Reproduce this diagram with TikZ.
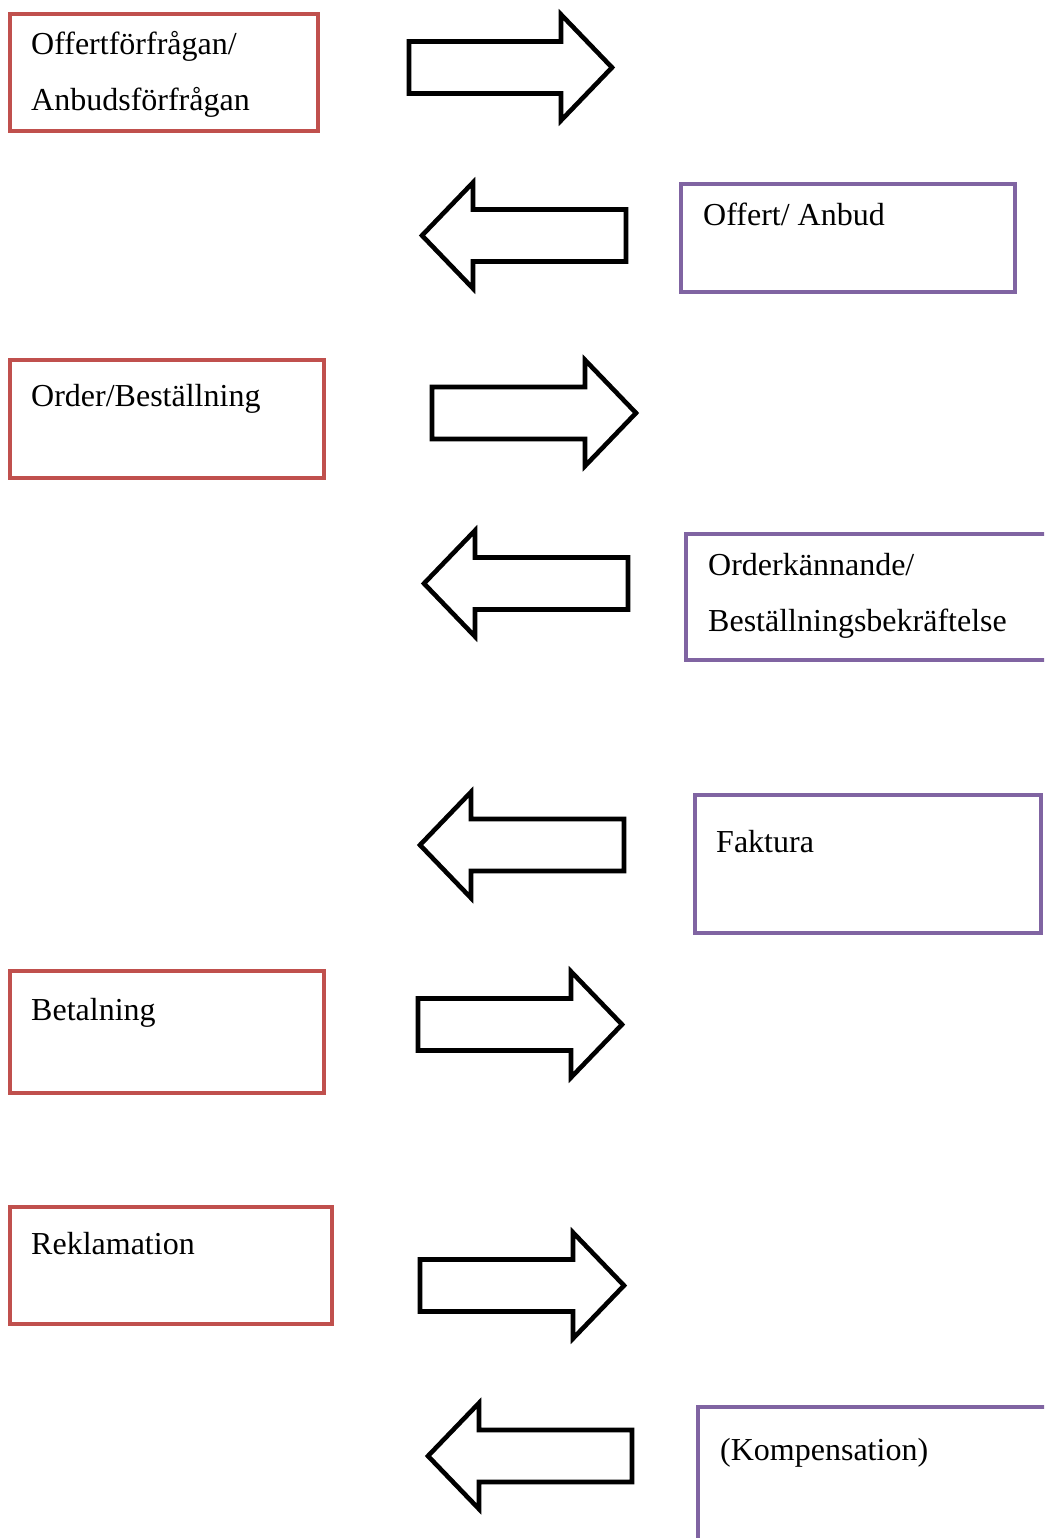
\documentclass[tikz,border=0pt]{standalone}
\usepackage{fontspec}
\setmainfont{Liberation Serif}
\definecolor{boxred}{HTML}{C0504D}
\definecolor{boxpurple}{HTML}{8064A2}
\tikzset{
  redbox/.style={draw=boxred, line width=4pt},
  purplebox/.style={draw=boxpurple, line width=4pt},
  blockarrow/.style={draw=black, line width=4.6pt, line join=miter, fill=white},
  label/.style={anchor=base west, inner sep=0pt, font=\fontsize{32}{56}\selectfont}
}
% right arrow: tail x, tip x, centre y
\newcommand\myarrowR[3]{%
  \draw[blockarrow] (#1,#3-26) -- (#2-51,#3-26) -- (#2-51,#3-53) -- (#2,#3)
    -- (#2-51,#3+53) -- (#2-51,#3+26) -- (#1,#3+26) -- cycle;}
% left arrow: tip x, tail x, centre y
\newcommand\myarrowL[3]{%
  \draw[blockarrow] (#2,#3-26) -- (#1+51,#3-26) -- (#1+51,#3-53) -- (#1,#3)
    -- (#1+51,#3+53) -- (#1+51,#3+26) -- (#2,#3+26) -- cycle;}
\begin{document}
\begin{tikzpicture}[x=1pt,y=-1pt]
\useasboundingbox (0,0) rectangle (1044,1538);
\clip (0,0) rectangle (1044,1538);
\fill[white] (0,0) rectangle (1044,1538);

% left (red) boxes
\draw[redbox] (10,14) rectangle (318,131);
\node[label] (t1a) at (31,55) {Offertförfrågan/};
\node[label] (t1b) at (31,111) {Anbudsförfrågan};

\draw[redbox] (10,360) rectangle (324,478);
\node[label] (t3) at (31,406) {Order/Beställning};

\draw[redbox] (10,971) rectangle (324,1093);
\node[label] (t6) at (31,1020) {Betalning};

\draw[redbox] (10,1207) rectangle (332,1324);
\node[label] (t7) at (31,1254) {Reklamation};

% right (purple) boxes
\draw[purplebox] (681,184) rectangle (1015,292);
\node[label] (t2) at (703,226) {Offert/ Anbud};

\draw[purplebox] (686,534) rectangle (1070,660);
\node[label] (t4a) at (708,575) {Orderkännande/};
\node[label] (t4b) at (708,631) {Beställningsbekräftelse};

\draw[purplebox] (695,795) rectangle (1041,933);
\node[label] (t5) at (716,852) {Faktura};

\draw[purplebox] (698,1407) rectangle (1070,1600);
\node[label] (t8) at (720,1460) {(Kompensation)};

% block arrows
\myarrowR{409}{612}{67.5}
\myarrowL{422}{626}{235.5}
\myarrowR{432}{636}{413}
\myarrowL{424}{628}{583.5}
\myarrowL{420}{624}{845}
\myarrowR{418}{622}{1024.5}
\myarrowR{420}{624}{1285.5}
\myarrowL{428}{632}{1456}
\end{tikzpicture}
\end{document}
